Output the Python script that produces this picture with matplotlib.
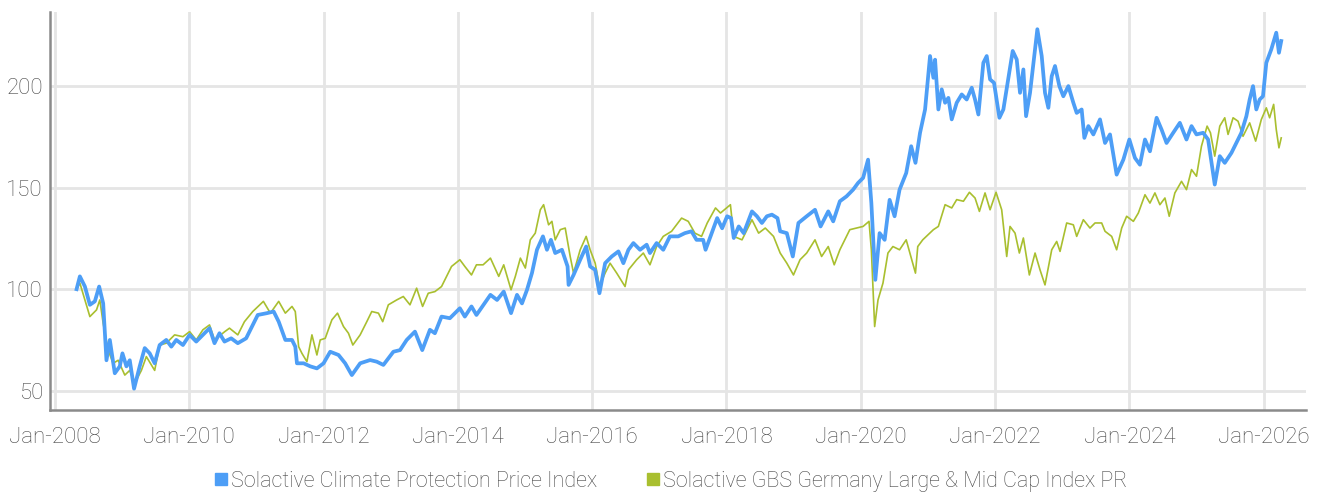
import matplotlib
matplotlib.use("Agg")
import matplotlib.pyplot as plt
from matplotlib.lines import Line2D

plt.rcParams['font.family'] = ['Roboto', 'DejaVu Sans']
plt.rcParams['font.weight'] = 'light'

# ---- data (decimal year, index level) ----
blue_t = [2008.322, 2008.371, 2008.446, 2008.520, 2008.594, 2008.658, 2008.718, 2008.767, 2008.817, 2008.891,
          2008.965, 2009.005, 2009.064, 2009.114, 2009.178, 2009.262, 2009.337, 2009.411, 2009.485, 2009.559,
          2009.658, 2009.733, 2009.807, 2009.906, 2010.005, 2010.104, 2010.203, 2010.302, 2010.376, 2010.450,
          2010.525, 2010.624, 2010.723, 2010.847, 2010.946, 2011.020, 2011.158, 2011.257, 2011.332, 2011.431,
          2011.530, 2011.579, 2011.604, 2011.703, 2011.802, 2011.901, 2012.000, 2012.099, 2012.223, 2012.322,
          2012.421, 2012.545, 2012.693, 2012.792, 2012.891, 2013.040, 2013.139, 2013.238, 2013.361, 2013.470,
          2013.584, 2013.658, 2013.757, 2013.881, 2014.030, 2014.104, 2014.203, 2014.277, 2014.485, 2014.584,
          2014.683, 2014.792, 2014.881, 2014.955, 2015.030, 2015.104, 2015.178, 2015.267, 2015.327, 2015.386,
          2015.450, 2015.550, 2015.634, 2015.649, 2015.723, 2015.822, 2015.911, 2015.970, 2016.045, 2016.109,
          2016.193, 2016.292, 2016.391, 2016.465, 2016.540, 2016.614, 2016.713, 2016.812, 2016.861, 2016.960,
          2017.059, 2017.158, 2017.282, 2017.381, 2017.480, 2017.554, 2017.653, 2017.689, 2017.763, 2017.862,
          2017.936, 2018.010, 2018.069, 2018.109, 2018.183, 2018.257, 2018.380, 2018.454, 2018.528, 2018.602,
          2018.677, 2018.760, 2018.800, 2018.899, 2018.988, 2019.072, 2019.195, 2019.319, 2019.402, 2019.516,
          2019.590, 2019.689, 2019.788, 2019.886, 2019.960, 2020.035, 2020.109, 2020.158, 2020.217, 2020.281,
          2020.356, 2020.430, 2020.504, 2020.578, 2020.677, 2020.751, 2020.815, 2020.883, 2020.958, 2021.032,
          2021.082, 2021.107, 2021.156, 2021.206, 2021.256, 2021.305, 2021.355, 2021.429, 2021.504, 2021.578,
          2021.653, 2021.702, 2021.752, 2021.826, 2021.876, 2021.926, 2021.985, 2022.065, 2022.124, 2022.184,
          2022.263, 2022.323, 2022.372, 2022.422, 2022.462, 2022.521, 2022.596, 2022.630, 2022.695, 2022.744,
          2022.794, 2022.844, 2022.893, 2022.958, 2023.017, 2023.092, 2023.166, 2023.216, 2023.290, 2023.330,
          2023.390, 2023.464, 2023.563, 2023.638, 2023.712, 2023.811, 2023.911, 2024.000, 2024.084, 2024.158,
          2024.233, 2024.307, 2024.406, 2024.480, 2024.554, 2024.653, 2024.752, 2024.851, 2024.926, 2025.000,
          2025.099, 2025.173, 2025.272, 2025.347, 2025.421, 2025.520, 2025.594, 2025.668, 2025.743, 2025.792,
          2025.842, 2025.891, 2025.941, 2025.990, 2026.040, 2026.114, 2026.188, 2026.228, 2026.262]
blue_v = [100.0, 106.3, 101.3, 92.3, 94.0, 101.3, 93.0, 65.0, 75.0, 58.6,
          62.0, 68.4, 62.0, 65.0, 51.0, 62.0, 71.0, 68.4, 63.5, 72.5,
          75.0, 71.7, 75.0, 72.5, 77.5, 74.2, 77.5, 80.8, 73.4, 78.3,
          74.2, 75.8, 73.4, 75.8, 82.4, 87.3, 88.2, 89.0, 84.0, 75.0,
          75.0, 71.7, 63.5, 63.5, 62.0, 61.0, 63.5, 69.2, 67.6, 63.5,
          57.7, 63.5, 65.1, 64.3, 62.7, 69.2, 70.0, 75.0, 79.1, 70.0,
          80.0, 78.3, 86.5, 85.7, 90.6, 86.5, 91.5, 87.3, 97.2, 94.7,
          98.8, 88.2, 97.2, 93.0, 99.7, 108.0, 119.4, 126.0, 119.4, 124.3,
          117.8, 119.4, 111.2, 102.1, 107.0, 114.5, 121.0, 111.2, 109.5, 98.0,
          112.8, 116.1, 118.6, 112.8, 119.4, 122.7, 119.4, 121.9, 117.8, 122.7,
          119.4, 126.0, 126.0, 127.6, 128.5, 124.3, 124.3, 119.4, 126.0, 135.0,
          130.0, 135.9, 135.0, 125.2, 130.9, 127.6, 138.3, 135.9, 132.6, 135.9,
          136.7, 135.0, 128.5, 127.6, 116.1, 132.6, 135.9, 139.1, 130.9, 138.3,
          133.4, 143.3, 145.7, 149.0, 152.3, 154.8, 163.8, 142.4, 104.6, 127.6,
          124.3, 144.0, 135.9, 149.0, 157.2, 170.4, 162.2, 177.0, 188.5, 214.8,
          204.1, 213.0, 188.5, 198.4, 191.8, 194.2, 183.6, 191.8, 195.9, 193.4,
          199.2, 193.4, 186.0, 211.5, 214.8, 203.3, 201.6, 184.4, 188.5, 200.8,
          217.3, 213.1, 196.7, 208.2, 185.2, 196.7, 218.1, 228.0, 214.8, 196.7,
          189.3, 204.9, 209.9, 200.0, 195.0, 200.0, 191.8, 186.8, 188.5, 174.5,
          180.3, 176.2, 183.6, 172.0, 176.2, 156.4, 163.8, 173.7, 164.6, 161.3,
          173.7, 167.9, 184.4, 178.6, 172.0, 177.0, 181.9, 173.7, 180.3, 176.2,
          177.0, 173.7, 151.5, 165.5, 162.2, 167.1, 172.0, 177.0, 185.2, 193.4,
          200.0, 188.5, 193.4, 195.0, 211.5, 218.1, 226.3, 216.4, 222.2]

green_t = [2008.322, 2008.371, 2008.520, 2008.619, 2008.668, 2008.718, 2008.792, 2008.866, 2008.941, 2009.040,
           2009.114, 2009.188, 2009.287, 2009.361, 2009.485, 2009.559, 2009.658, 2009.782, 2009.906, 2010.005,
           2010.104, 2010.203, 2010.302, 2010.376, 2010.525, 2010.599, 2010.723, 2010.822, 2010.946, 2011.104,
           2011.208, 2011.332, 2011.431, 2011.530, 2011.579, 2011.629, 2011.678, 2011.752, 2011.827, 2011.901,
           2011.950, 2012.025, 2012.124, 2012.208, 2012.297, 2012.371, 2012.436, 2012.545, 2012.644, 2012.718,
           2012.817, 2012.881, 2012.965, 2013.089, 2013.188, 2013.287, 2013.386, 2013.475, 2013.559, 2013.658,
           2013.757, 2013.906, 2014.030, 2014.104, 2014.203, 2014.277, 2014.376, 2014.485, 2014.609, 2014.683,
           2014.792, 2014.856, 2014.931, 2015.005, 2015.079, 2015.153, 2015.228, 2015.277, 2015.351, 2015.401,
           2015.450, 2015.525, 2015.599, 2015.673, 2015.723, 2015.822, 2015.911, 2015.970, 2016.045, 2016.109,
           2016.193, 2016.267, 2016.366, 2016.490, 2016.540, 2016.663, 2016.762, 2016.861, 2016.960, 2017.059,
           2017.183, 2017.332, 2017.431, 2017.530, 2017.629, 2017.714, 2017.837, 2017.911, 2018.059, 2018.109,
           2018.232, 2018.380, 2018.479, 2018.578, 2018.701, 2018.800, 2018.899, 2018.998, 2019.096, 2019.195,
           2019.319, 2019.417, 2019.516, 2019.605, 2019.689, 2019.837, 2019.936, 2020.035, 2020.123, 2020.158,
           2020.207, 2020.257, 2020.331, 2020.405, 2020.479, 2020.578, 2020.677, 2020.815, 2020.849, 2020.923,
           2021.082, 2021.156, 2021.256, 2021.355, 2021.429, 2021.529, 2021.618, 2021.702, 2021.767, 2021.851,
           2021.926, 2022.015, 2022.099, 2022.174, 2022.223, 2022.298, 2022.362, 2022.422, 2022.511, 2022.596,
           2022.670, 2022.744, 2022.844, 2022.918, 2022.968, 2023.067, 2023.166, 2023.216, 2023.315, 2023.414,
           2023.489, 2023.588, 2023.638, 2023.737, 2023.811, 2023.886, 2023.960, 2024.060, 2024.134, 2024.233,
           2024.307, 2024.381, 2024.455, 2024.530, 2024.594, 2024.678, 2024.777, 2024.851, 2024.926, 2025.000,
           2025.074, 2025.158, 2025.208, 2025.272, 2025.347, 2025.421, 2025.470, 2025.545, 2025.619, 2025.693,
           2025.792, 2025.881, 2025.965, 2026.040, 2026.089, 2026.149, 2026.188, 2026.228, 2026.262]
green_v = [100.0, 103.0, 86.5, 89.8, 94.7, 83.2, 70.0, 63.5, 65.0, 57.7,
           60.0, 53.6, 60.0, 66.8, 60.0, 72.5, 73.4, 77.5, 76.6, 79.1,
           75.0, 80.0, 82.4, 75.0, 79.0, 80.8, 77.5, 84.0, 89.0, 94.0,
           88.2, 94.0, 88.2, 91.5, 89.0, 71.7, 68.4, 64.3, 77.5, 67.6,
           75.0, 75.8, 84.9, 88.2, 81.6, 78.3, 72.5, 77.5, 84.0, 89.0,
           88.2, 84.0, 92.3, 94.7, 96.4, 92.3, 100.5, 91.5, 98.0, 98.8,
           101.3, 111.2, 114.5, 111.2, 107.0, 112.0, 112.0, 115.3, 106.3, 112.0,
           99.7, 106.3, 115.3, 110.4, 124.3, 127.6, 139.1, 141.6, 131.7, 133.4,
           124.3, 129.3, 130.1, 116.1, 107.9, 119.4, 126.0, 119.4, 112.8, 101.3,
           107.9, 112.8, 107.9, 101.3, 109.5, 114.5, 117.8, 112.0, 121.0, 126.0,
           128.5, 135.0, 133.4, 127.6, 126.0, 132.6, 140.0, 137.5, 141.6, 126.0,
           124.3, 134.2, 127.6, 130.1, 126.0, 117.8, 112.8, 107.0, 114.5, 117.8,
           124.3, 116.1, 121.0, 112.0, 119.4, 129.3, 130.1, 130.9, 133.4, 119.4,
           81.6, 94.7, 103.0, 117.8, 121.0, 119.4, 124.3, 107.9, 121.0, 124.3,
           129.3, 130.9, 141.6, 140.0, 144.1, 143.3, 147.7, 144.9, 138.3, 147.4,
           139.1, 147.7, 139.1, 116.1, 130.9, 127.6, 117.8, 125.2, 107.0, 117.8,
           109.5, 102.1, 119.4, 123.5, 118.6, 132.6, 131.7, 126.0, 134.2, 130.1,
           132.6, 132.6, 128.5, 126.0, 119.4, 130.1, 135.9, 133.4, 137.5, 146.5,
           142.4, 147.4, 141.6, 144.9, 135.9, 147.4, 153.1, 149.0, 158.9, 155.6,
           170.4, 180.3, 177.0, 165.5, 180.3, 184.4, 176.2, 184.4, 182.7, 175.3,
           181.9, 172.9, 183.5, 189.3, 184.4, 191.0, 178.6, 169.6, 174.5]

series_names = ["Solactive Climate Protection Price Index",
                "Solactive GBS Germany Large & Mid Cap Index PR"]
x_tick_years = [2008, 2010, 2012, 2014, 2016, 2018, 2020, 2022, 2024, 2026]
x_tick_labels = ["Jan-%d" % y for y in x_tick_years]
y_ticks = [50, 100, 150, 200]

BLUE = "#4D9EF6"
GREEN = "#A9BF2F"
TXT = "#474747"

fig = plt.figure(figsize=(13.19, 4.95), dpi=100)
ax = fig.add_axes([0.0379, 0.1717, 0.9522, 0.8041])

ax.plot(green_t, green_v, color=GREEN, lw=1.2, zorder=3)
ax.plot(blue_t, blue_v, color=BLUE, lw=2.7, zorder=4, solid_joinstyle='round')

ax.set_xlim(2007.926, 2026.63)
ax.set_ylim(40.5, 236.5)
ax.set_xticks(x_tick_years)
ax.set_xticklabels(x_tick_labels)
ax.set_yticks(y_ticks)

ax.grid(True, color="#E5E5E5", lw=2.0, zorder=0)
ax.set_axisbelow(True)
for s in ["top", "right"]:
    ax.spines[s].set_visible(False)
ax.spines["left"].set_color("#8A8A8A")
ax.spines["left"].set_linewidth(1.8)
ax.spines["bottom"].set_color("#8A8A8A")
ax.spines["bottom"].set_linewidth(1.8)
ax.tick_params(axis="both", length=0, labelsize=16, labelcolor=TXT)
ax.tick_params(axis="y", pad=5)
ax.tick_params(axis="x", pad=12)

handles = [Line2D([], [], marker="s", ls="none", color=BLUE, markersize=9),
           Line2D([], [], marker="s", ls="none", color=GREEN, markersize=9)]
leg = fig.legend(handles, series_names, loc="center", bbox_to_anchor=(0.508, 0.028),
                 ncol=2, frameon=False, fontsize=15.5, handletextpad=0.05,
                 columnspacing=2.2, handlelength=0.8)
for t in leg.get_texts():
    t.set_color(TXT)

fig.savefig("out.png", dpi=100)
